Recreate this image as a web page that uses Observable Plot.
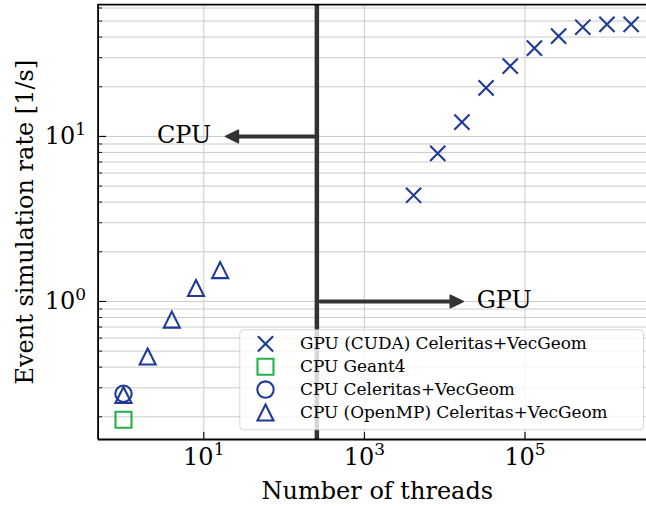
<!DOCTYPE html>
<html><head><meta charset="utf-8">
<script src="https://cdn.jsdelivr.net/npm/d3@7"></script>
<script src="https://cdn.jsdelivr.net/npm/@observablehq/plot@0.6"></script>
<style>body{margin:0;background:#fff} svg{display:block}</style>
</head><body><div id="chart"></div>
<script>
// ---- data ----
const gpuThreads = [4096, 8192, 16384, 32768, 65536, 131072, 262144, 524288, 1048576, 2097152];
const gpuRate    = [4.4, 7.9, 12.2, 19.7, 26.7, 34.3, 40.5, 45.9, 47.7, 47.7];
const g4Threads  = [1];
const g4Rate     = [0.192];
const celThreads = [1];
const celRate    = [0.276];
const ompThreads = [1, 2, 4, 8, 16];
const ompRate    = [0.271, 0.464, 0.776, 1.207, 1.548];
const legendLabels = ["GPU (CUDA) Celeritas+VecGeom", "CPU Geant4", "CPU Celeritas+VecGeom", "CPU (OpenMP) Celeritas+VecGeom"];
const xTickValues = [10, 1000, 100000];
const yMajorTicks = [1, 10];
const yMinorTicks = [0.2,0.3,0.4,0.5,0.6,0.7,0.8,0.9,2,3,4,5,6,7,8,9,20,30,40,50,60];
const splitThreads = 256;
const annoLabels = ["CPU", "GPU"];
const annoTextX = [12.4, 25000];
const annoY = [10, 1];
const arrowFrom = [256, 285];
const arrowTo = [18.6, 17000];

// ---- layout ----
const W = 646, H = 506;
const L = 97.6, T = 4.2, B = 439, AXR = 656;
const blue = "#1d3a97", green = "#25b04c", dark = "#333333";
const FS = 24;

// matplotlib-like autoscale (5% margin in log space)
function logDomain(vals){
  const lo = Math.log10(d3.min(vals)), hi = Math.log10(d3.max(vals)), m = 0.05*(hi-lo);
  return [10**(lo-m), 10**(hi+m)];
}
const xDomain = logDomain([...gpuThreads, ...g4Threads, ...celThreads, ...ompThreads]);
const yDomain = logDomain([...gpuRate, ...g4Rate, ...celRate, ...ompRate]);

const sym = {
  times: {draw(c,s){const h=Math.sqrt(s/Math.PI); c.moveTo(-h,-h); c.lineTo(h,h); c.moveTo(h,-h); c.lineTo(-h,h);}},
  square: {draw(c,s){const h=Math.sqrt(s/Math.PI); c.moveTo(-h,-h); c.lineTo(h,-h); c.lineTo(h,h); c.lineTo(-h,h); c.closePath();}},
  triangle: {draw(c,s){const h=Math.sqrt(s/Math.PI); c.moveTo(0,-h); c.lineTo(h,h); c.lineTo(-h,h); c.closePath();}},
  circle: "circle",
  head: {draw(c,s){c.moveTo(0,0); c.lineTo(-13,-6.3); c.lineTo(-13,6.3); c.closePath();}}
};
const legendSymbols = [sym.times, sym.square, sym.circle, sym.triangle];
const legendColors = [blue, green, blue, blue];
const legendR = [7.6, 8, 8.2, 8];

const tbl = (xs, ys) => xs.map((x,i)=>({x, y: ys[i]}));
const gpu = tbl(gpuThreads, gpuRate), g4 = tbl(g4Threads, g4Rate), cel = tbl(celThreads, celRate), omp = tbl(ompThreads, ompRate);
const anno = annoLabels.map((t,i)=>({t, x: annoTextX[i], y: annoY[i], from: arrowFrom[i], to: arrowTo[i]}));

const plotW = W - L, plotH = B - T;
const expFmt = d => "10^" + Math.round(Math.log10(d));

const legendMarks = [];
legendLabels.forEach((lab, i) => {
  const rowY = 343.3 + 22.9*i;
  legendMarks.push(Plot.dot([lab], {frameAnchor: "bottom-left", dx: 265 - L, dy: rowY - B,
    symbol: legendSymbols[i], r: legendR[i], stroke: legendColors[i], fill: "none", strokeWidth: 2.1}));
  legendMarks.push(Plot.text([lab], {frameAnchor: "bottom-left", dx: 299.5 - L, dy: rowY - B,
    textAnchor: "start", lineAnchor: "middle", fontSize: 16.9, fill: "black"}));
});

const chart = Plot.plot({
  width: W, height: H,
  marginLeft: L, marginRight: 0, marginTop: T, marginBottom: H - B,
  style: {fontFamily: "'DejaVu Serif', serif", background: "white", overflow: "visible"},
  x: {type: "log", domain: xDomain, range: [L, AXR]},
  y: {type: "log", domain: yDomain, range: [B, T]},
  marks: [
    // grid
    Plot.ruleY([...yMajorTicks, ...yMinorTicks], {y: d=>d, stroke: "#cbcbcb", strokeWidth: 1}),
    Plot.ruleX(xTickValues, {x: d=>d, stroke: "#cbcbcb", strokeWidth: 1}),
    // CPU/GPU split line
    Plot.ruleX([splitThreads], {x: d=>d, stroke: dark, strokeWidth: 4.5}),
    // arrows
    Plot.ruleY([anno[0]], {y: "y", x1: "to", x2: "from", insetLeft: 7, stroke: dark, strokeWidth: 4, strokeLinecap: "round"}),
    Plot.ruleY([anno[1]], {y: "y", x1: "from", x2: "to", insetRight: 7, stroke: dark, strokeWidth: 4, strokeLinecap: "round"}),
    Plot.dot([anno[0]], {x: "to", y: "y", symbol: sym.head, r: 1, rotate: 180, fill: dark, stroke: dark, strokeWidth: 1.5, strokeLinejoin: "round"}),
    Plot.dot([anno[1]], {x: "to", y: "y", symbol: sym.head, r: 1, rotate: 0, fill: dark, stroke: dark, strokeWidth: 1.5, strokeLinejoin: "round"}),
    Plot.text([anno[0]], {x: "x", y: "y", text: "t", textAnchor: "end", lineAnchor: "middle", fontSize: FS, dy: -1.5, fill: "black"}),
    Plot.text([anno[1]], {x: "x", y: "y", text: "t", textAnchor: "start", lineAnchor: "middle", fontSize: FS, dy: -1.5, fill: "black"}),
    // data
    Plot.dot(gpu, {x: "x", y: "y", symbol: sym.times, r: 7.6, stroke: blue, fill: "none", strokeWidth: 2.1}),
    Plot.dot(g4, {x: "x", y: "y", symbol: sym.square, r: 8, stroke: green, fill: "none", strokeWidth: 2.1, strokeLinejoin: "miter"}),
    Plot.dot(cel, {x: "x", y: "y", symbol: sym.circle, r: 8.2, stroke: blue, fill: "none", strokeWidth: 2.1}),
    Plot.dot(omp, {x: "x", y: "y", symbol: sym.triangle, r: 8, stroke: blue, fill: "none", strokeWidth: 2.1, strokeLinejoin: "miter"}),
    // legend box
    Plot.frame({insetLeft: 239.3 - L, insetTop: 329.3 - T, insetRight: W - 643, insetBottom: B - 429.3,
      rx: 4, ry: 4, fill: "white", fillOpacity: 0.8, stroke: "#cccccc", strokeOpacity: 0.8, strokeWidth: 1}),
    ...legendMarks,
    // spines
    Plot.ruleX([xDomain[0]], {x: d=>d, stroke: "black", strokeWidth: 1.8}),
    Plot.ruleY([yDomain[0], yDomain[1]], {y: d=>d, stroke: "black", strokeWidth: 1.8}),
    // inward ticks
    Plot.ruleX(xTickValues, {x: d=>d, insetTop: plotH - 7, stroke: "black", strokeWidth: 1.1}),
    Plot.ruleY(yMajorTicks, {y: d=>d, insetRight: plotW - 8.5, stroke: "black", strokeWidth: 1.1}),
    Plot.ruleY(yMinorTicks, {y: d=>d, insetRight: plotW - 4.5, stroke: "black", strokeWidth: 0.9}),
    // tick labels
    Plot.axisX({ticks: xTickValues, tickSize: 0, tickPadding: 8, tickFormat: expFmt, fontSize: FS, label: null, anchor: "bottom"}),
    Plot.axisY({ticks: yMajorTicks, tickSize: 0, tickPadding: 12, tickFormat: expFmt, fontSize: FS, label: null, anchor: "left"}),
    // axis titles
    Plot.text(["Number of threads"], {frameAnchor: "bottom", dx: (L + AXR)/2 - (L + W)/2, dy: 52.3, textAnchor: "middle", fontSize: FS, lineAnchor: "middle", fill: "black"}),
    Plot.text(["Event simulation rate [1/s]"], {frameAnchor: "left", dx: 25.3 - L, dy: (T + B)/2 - (T + B)/2, textAnchor: "middle", rotate: -90, fontSize: FS, lineAnchor: "middle", fill: "black"})
  ]
});

// render "10^n" as 10 with a superscript
chart.querySelectorAll("text").forEach(t => {
  const m = /^10\^(-?\d+)$/.exec(t.textContent);
  if (!m) return;
  t.textContent = "10";
  const s = document.createElementNS("http://www.w3.org/2000/svg", "tspan");
  s.setAttribute("font-size", "17");
  s.setAttribute("dy", "-9.5");
  s.textContent = m[1];
  t.appendChild(s);
});

document.getElementById("chart").appendChild(chart);
</script>
</body></html>
